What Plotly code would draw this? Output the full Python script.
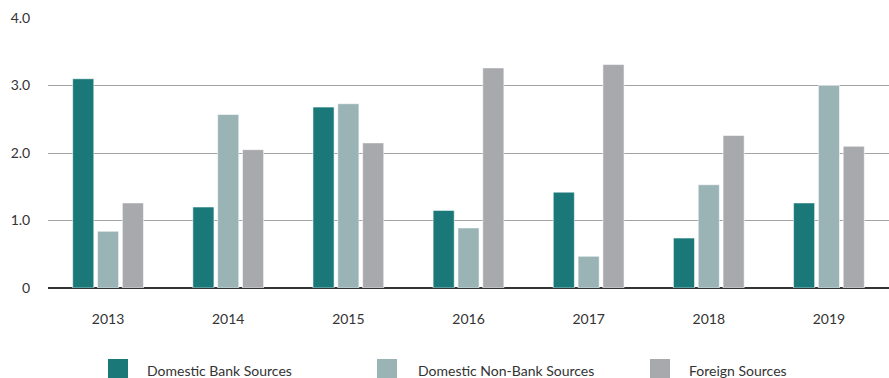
import plotly.graph_objects as go

# Funding sources by year
years = ["2013", "2014", "2015", "2016", "2017", "2018", "2019"]
domestic_bank = [3.10, 1.20, 2.68, 1.15, 1.42, 0.74, 1.26]
domestic_non_bank = [0.84, 2.57, 2.73, 0.89, 0.47, 1.53, 3.00]
foreign = [1.26, 2.05, 2.15, 3.26, 3.31, 2.26, 2.10]

series_names = ["Domestic Bank Sources", "Domestic Non-Bank Sources", "Foreign Sources"]
series_values = [domestic_bank, domestic_non_bank, foreign]
colors = ["#1a7878", "#9ab3b5", "#a8a9ad"]

y_ticks = [0, 1, 2, 3, 4]
y_tick_text = ["0", "1.0", "2.0", "3.0", "4.0"]

FONT = "Lato, 'Open Sans', sans-serif"

fig = go.Figure()
for name, vals, col in zip(series_names, series_values, colors):
    fig.add_trace(go.Bar(
        x=years, y=vals, name=name,
        marker=dict(color=col, line=dict(color="rgba(255,255,255,0.55)", width=1)),
        showlegend=False,
    ))

W, H = 889, 378
ml, mr, mt, mb = 48, 0, 18, 90
pw, ph = W - ml - mr, H - mt - mb

def px_x(x):
    return (x - ml) / pw

def px_y(y):
    return (H - mb - y) / ph

# Custom legend row along the bottom
legend_items = [(108, 145), (377, 416), (650, 687)]
shapes = []
annotations = []
for (sx, tx), name, col in zip(legend_items, series_names, colors):
    shapes.append(dict(type="rect", xref="paper", yref="paper",
                       x0=px_x(sx), x1=px_x(sx + 20), y0=px_y(359), y1=px_y(378),
                       fillcolor=col, line=dict(width=0)))
    annotations.append(dict(xref="paper", yref="paper", x=px_x(tx), y=px_y(370),
                            xanchor="left", yanchor="middle", text=name, showarrow=False,
                            font=dict(family=FONT, size=14, color="#333333")))

fig.update_layout(
    width=W, height=H,
    margin=dict(l=ml, r=mr, t=mt, b=mb),
    paper_bgcolor="white", plot_bgcolor="white",
    barmode="group", bargap=0.38, bargroupgap=0.15,
    font=dict(family=FONT, size=14, color="#333333"),
    shapes=shapes, annotations=annotations,
    xaxis=dict(showgrid=False, showline=False, zeroline=False,
               ticks="outside", ticklen=18, tickcolor="rgba(0,0,0,0)",
               tickfont=dict(family=FONT, size=14, color="#333333")),
    yaxis=dict(range=[0, 4.0], tickvals=y_ticks, ticktext=y_tick_text,
               showgrid=True, gridcolor="#a3a3a3", gridwidth=1,
               zeroline=True, zerolinecolor="#333333", zerolinewidth=2,
               showline=False, ticks="outside", ticklen=14,
               tickcolor="rgba(0,0,0,0)",
               tickfont=dict(family=FONT, size=14, color="#333333")),
)

fig.write_html("out.html")
